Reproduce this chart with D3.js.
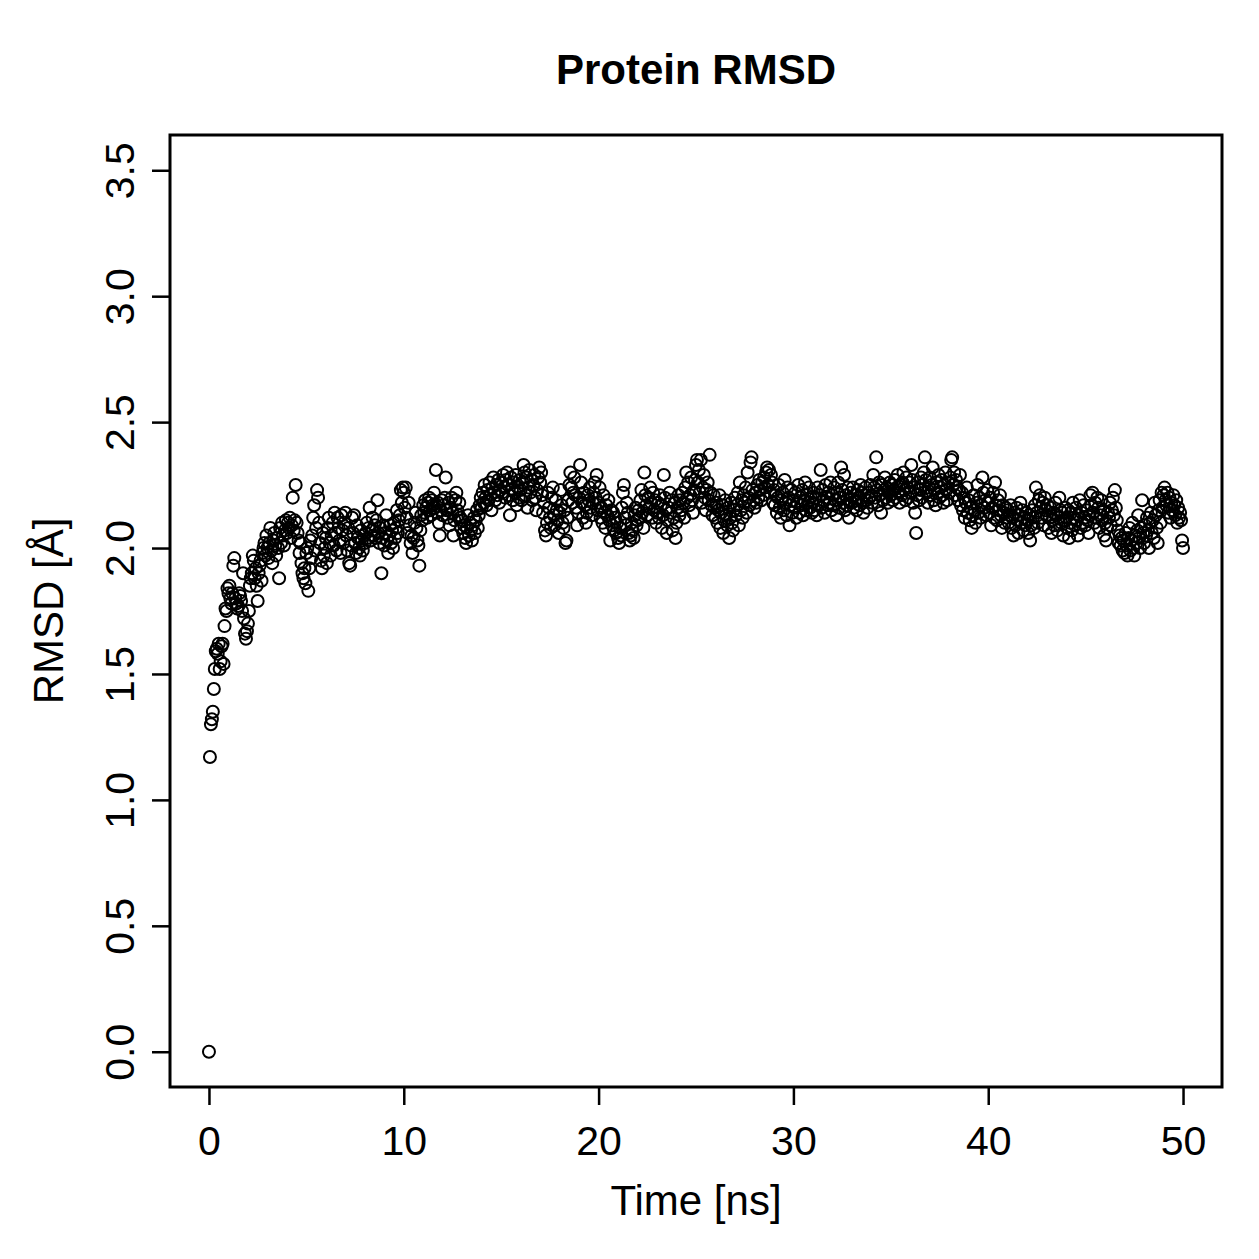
<!DOCTYPE html>
<html>
<head>
<meta charset="utf-8">
<script src="https://cdn.jsdelivr.net/npm/d3@7"></script>
<style>
  body { margin: 0; background: #fff; }
  svg text { font-family: "Liberation Sans", Arial, Helvetica, sans-serif; fill: #000; }
</style>
</head>
<body>
<div id="chart"></div>
<script>
// sampling interval of the trajectory (ns per frame)
var timeStep = 0.05;

// protein RMSD per frame, one row per nanosecond
var rmsd = [
  0.00,1.17,1.30,1.32,1.35,1.44,1.52,1.59,1.60,1.58,1.62,1.52,1.55,1.61,1.62,1.54,1.69,1.76,1.75,1.84,
  1.82,1.85,1.80,1.78,1.82,1.93,1.96,1.80,1.78,1.76,1.77,1.82,1.81,1.79,1.75,1.90,1.72,1.66,1.64,1.67,
  1.70,1.75,1.85,1.88,1.90,1.97,1.95,1.88,1.92,1.85,1.79,1.90,1.93,1.95,1.87,1.98,2.00,2.02,1.97,2.05,
  2.00,1.96,2.02,2.08,1.99,1.94,2.03,2.06,2.01,1.97,2.04,2.00,1.88,2.08,2.02,2.10,2.05,2.01,2.07,2.11,
  2.06,2.10,2.08,2.12,2.04,2.09,2.20,2.07,2.11,2.25,2.10,2.06,2.03,1.98,2.02,1.94,1.90,1.88,1.92,1.86,
  1.98,2.00,1.83,1.92,2.03,1.96,2.05,2.12,2.17,1.99,2.08,2.23,2.20,2.10,2.02,1.95,1.92,2.06,1.97,2.00,
  2.04,1.94,2.08,2.12,2.02,1.97,2.05,2.10,2.01,2.14,2.06,1.99,2.12,2.08,2.03,1.98,2.13,2.07,2.02,2.10,
  2.14,2.05,1.99,2.08,1.94,1.93,2.01,2.12,2.06,2.13,2.02,1.98,2.09,2.04,2.00,1.97,2.07,2.03,1.99,2.05,
  2.02,2.06,2.10,2.04,2.08,2.16,2.03,2.07,2.12,2.05,2.09,2.04,2.11,2.19,2.06,2.02,2.08,1.90,2.04,2.09,
  2.01,2.06,2.13,2.03,1.98,2.05,2.09,2.02,2.07,2.00,2.10,2.04,2.08,2.15,2.06,2.11,2.13,2.23,2.18,2.24,
  2.22,2.16,2.24,2.12,2.06,2.18,2.09,2.02,2.05,1.98,2.04,2.10,2.14,2.08,2.03,2.01,1.93,2.07,2.13,2.11,
  2.17,2.14,2.19,2.16,2.12,2.18,2.20,2.15,2.13,2.19,2.17,2.22,2.16,2.31,2.14,2.18,2.10,2.05,2.15,2.19,
  2.13,2.17,2.20,2.28,2.15,2.12,2.18,2.09,2.16,2.20,2.14,2.05,2.11,2.19,2.22,2.15,2.13,2.18,2.12,2.08,
  2.11,2.06,2.09,2.04,2.02,2.08,2.13,2.05,2.10,2.07,2.03,2.09,2.12,2.06,2.11,2.15,2.08,2.13,2.17,2.20,
  2.16,2.22,2.18,2.25,2.20,2.17,2.23,2.19,2.26,2.21,2.15,2.24,2.28,2.22,2.19,2.25,2.21,2.27,2.18,2.23,
  2.26,2.22,2.29,2.24,2.20,2.27,2.30,2.25,2.21,2.13,2.28,2.23,2.19,2.26,2.22,2.29,2.17,2.24,2.20,2.27,
  2.23,2.19,2.26,2.33,2.30,2.21,2.28,2.16,2.24,2.31,2.22,2.27,2.19,2.25,2.29,2.20,2.15,2.23,2.28,2.32,
  2.26,2.30,2.21,2.14,2.18,2.07,2.05,2.10,2.22,2.16,2.12,2.08,2.20,2.24,2.13,2.09,2.19,2.15,2.11,2.06,
  2.14,2.23,2.17,2.10,2.08,2.15,2.02,2.03,2.12,2.19,2.25,2.30,2.24,2.18,2.22,2.28,2.21,2.16,2.09,2.14,
  2.20,2.33,2.26,2.18,2.12,2.22,2.17,2.10,2.14,2.21,2.19,2.24,2.16,2.13,2.18,2.22,2.26,2.20,2.29,2.15,
  2.18,2.24,2.12,2.16,2.10,2.21,2.14,2.08,2.17,2.13,2.19,2.11,2.03,2.15,2.09,2.14,2.07,2.12,2.06,2.10,
  2.04,2.02,2.08,2.05,2.16,2.22,2.25,2.12,2.09,2.18,2.14,2.06,2.03,2.05,2.10,2.07,2.04,2.13,2.16,2.09,
  2.11,2.15,2.12,2.19,2.23,2.14,2.08,2.30,2.21,2.17,2.13,2.20,2.16,2.24,2.18,2.12,2.22,2.15,2.19,2.10,
  2.14,2.18,2.12,2.21,2.17,2.08,2.13,2.29,2.20,2.15,2.06,2.11,2.16,2.22,2.14,2.19,2.07,2.12,2.18,2.04,
  2.10,2.16,2.21,2.13,2.19,2.15,2.22,2.18,2.12,2.24,2.30,2.20,2.26,2.17,2.21,2.28,2.19,2.14,2.23,2.27,
  2.33,2.35,2.26,2.31,2.22,2.35,2.18,2.24,2.29,2.20,2.15,2.23,2.26,2.19,2.37,2.22,2.17,2.13,2.21,2.16,
  2.12,2.18,2.10,2.15,2.21,2.08,2.14,2.17,2.06,2.11,2.19,2.13,2.09,2.16,2.04,2.12,2.18,2.10,2.07,2.15,
  2.20,2.13,2.17,2.22,2.09,2.26,2.15,2.19,2.12,2.21,2.18,2.24,2.14,2.30,2.20,2.17,2.34,2.36,2.23,2.19,
  2.16,2.22,2.18,2.25,2.20,2.27,2.23,2.19,2.26,2.21,2.28,2.24,2.30,2.32,2.25,2.31,2.22,2.29,2.26,2.18,
  2.23,2.17,2.21,2.14,2.20,2.25,2.16,2.12,2.19,2.22,2.15,2.27,2.18,2.13,2.24,2.20,2.09,2.17,2.23,2.14,
  2.19,2.16,2.22,2.12,2.18,2.25,2.14,2.20,2.17,2.23,2.13,2.19,2.26,2.15,2.21,2.18,2.24,2.16,2.20,2.14,
  2.18,2.22,2.15,2.20,2.13,2.24,2.17,2.21,2.31,2.16,2.23,2.19,2.14,2.25,2.20,2.17,2.22,2.18,2.26,2.15,
  2.21,2.17,2.24,2.19,2.13,2.22,2.26,2.16,2.20,2.32,2.23,2.18,2.29,2.15,2.21,2.17,2.24,2.12,2.19,2.22,
  2.18,2.24,2.16,2.21,2.19,2.15,2.23,2.20,2.17,2.25,2.22,2.18,2.14,2.21,2.24,2.19,2.16,2.22,2.20,2.25,
  2.21,2.18,2.29,2.24,2.20,2.36,2.23,2.17,2.26,2.21,2.14,2.25,2.19,2.23,2.28,2.20,2.24,2.18,2.22,2.26,
  2.21,2.25,2.19,2.23,2.27,2.20,2.24,2.29,2.22,2.18,2.25,2.21,2.26,2.30,2.23,2.19,2.28,2.24,2.20,2.26,
  2.22,2.33,2.27,2.18,2.24,2.14,2.06,2.21,2.26,2.19,2.23,2.28,2.20,2.25,2.30,2.36,2.27,2.22,2.18,2.24,
  2.28,2.21,2.25,2.32,2.19,2.23,2.17,2.26,2.22,2.29,2.20,2.24,2.27,2.21,2.18,2.25,2.30,2.23,2.19,2.26,
  2.22,2.28,2.35,2.36,2.25,2.30,2.21,2.27,2.24,2.19,2.23,2.29,2.17,2.22,2.15,2.20,2.12,2.18,2.24,2.14,
  2.19,2.11,2.16,2.08,2.13,2.21,2.15,2.10,2.18,2.25,2.14,2.20,2.12,2.17,2.28,2.22,2.16,2.19,2.13,2.23,
  2.18,2.14,2.20,2.09,2.16,2.22,2.12,2.26,2.17,2.11,2.19,2.15,2.21,2.13,2.08,2.17,2.14,2.10,2.16,2.12,
  2.15,2.10,2.13,2.17,2.08,2.12,2.05,2.14,2.09,2.16,2.11,2.06,2.13,2.18,2.10,2.15,2.07,2.12,2.09,2.14,
  2.11,2.06,2.13,2.03,2.09,2.15,2.12,2.08,2.17,2.24,2.14,2.10,2.19,2.21,2.16,2.12,2.18,2.09,2.20,2.15,
  2.13,2.17,2.08,2.12,2.16,2.06,2.11,2.14,2.09,2.18,2.13,2.07,2.12,2.20,2.15,2.10,2.14,2.05,2.11,2.16,
  2.12,2.08,2.15,2.04,2.10,2.14,2.07,2.18,2.12,2.09,2.16,2.11,2.05,2.13,2.19,2.08,2.14,2.10,2.17,2.12,
  2.09,2.15,2.11,2.06,2.13,2.21,2.17,2.22,2.14,2.10,2.18,2.12,2.20,2.16,2.08,2.13,2.19,2.11,2.15,2.05,
  2.10,2.03,2.08,2.14,2.12,2.18,2.09,2.15,2.20,2.13,2.23,2.16,2.11,2.07,2.02,2.05,2.01,2.04,1.99,2.03,
  1.98,2.06,2.01,1.97,2.04,2.08,1.99,2.03,2.10,2.00,1.97,2.05,2.02,2.07,2.13,2.04,2.00,2.08,2.19,2.06,
  2.02,2.09,2.05,2.12,2.07,2.00,2.10,2.14,2.06,2.11,2.04,2.18,2.13,2.08,2.02,2.15,2.19,2.10,2.22,2.16,
  2.21,2.24,2.19,2.17,2.22,2.14,2.20,2.12,2.18,2.15,2.21,2.17,2.13,2.19,2.10,2.16,2.12,2.14,2.11,2.03,
  2.00
];

var xTicks = [0, 10, 20, 30, 40, 50];
var yTicks = [0.0, 0.5, 1.0, 1.5, 2.0, 2.5, 3.0, 3.5];

var titleText = 'Protein RMSD';
var xLabel = 'Time [ns]';
var yLabel = 'RMSD [Å]';

var width = 1259, height = 1259;
var margin = { top: 135, right: 37, bottom: 172, left: 170 };

var points = rmsd.map(function (v, i) {
  return { t: i * timeStep, v: v };
});

var svg = d3.select('#chart')
  .append('svg')
  .attr('width', width)
  .attr('height', height);

// R pads the data range by 4% on each side
var x = d3.scaleLinear()
  .domain([-2, 52])
  .range([margin.left, width - margin.right]);

var y = d3.scaleLinear()
  .domain([-0.14, 3.64])
  .range([height - margin.bottom, margin.top]);

var tickLen = 18;

// x axis: ticks only across the labelled range
var xAxis = svg.append('g')
  .attr('transform', 'translate(0,' + (height - margin.bottom) + ')')
  .call(d3.axisBottom(x)
    .tickValues(xTicks)
    .tickSize(tickLen)
    .tickFormat(d3.format('d')));

xAxis.select('.domain').remove();
xAxis.selectAll('line').attr('stroke', '#000').attr('stroke-width', 2.5);
xAxis.selectAll('text')
  .attr('font-size', 41)
  .attr('fill', '#000')
  .attr('y', 68)
  .attr('dy', null);

// y axis with labels rotated parallel to the axis
var yAxis = svg.append('g')
  .attr('transform', 'translate(' + margin.left + ',0)')
  .call(d3.axisLeft(y)
    .tickValues(yTicks)
    .tickSize(tickLen)
    .tickFormat(d3.format('.1f')));

yAxis.select('.domain').remove();
yAxis.selectAll('line').attr('stroke', '#000').attr('stroke-width', 2.5);
yAxis.selectAll('text')
  .attr('font-size', 41)
  .attr('fill', '#000')
  .attr('x', null)
  .attr('dy', null)
  .attr('text-anchor', 'middle')
  .attr('transform', 'translate(-36,0) rotate(-90)');

// plot box
svg.append('rect')
  .attr('x', margin.left)
  .attr('y', margin.top)
  .attr('width', width - margin.left - margin.right)
  .attr('height', height - margin.top - margin.bottom)
  .attr('fill', 'none')
  .attr('stroke', '#000')
  .attr('stroke-width', 3);

// points
svg.append('g')
  .selectAll('circle')
  .data(points)
  .enter()
  .append('circle')
  .attr('cx', function (d) { return x(d.t); })
  .attr('cy', function (d) { return y(d.v); })
  .attr('r', 6)
  .attr('fill', 'none')
  .attr('stroke', '#000')
  .attr('stroke-width', 2);

// title and axis labels
svg.append('text')
  .attr('x', (margin.left + width - margin.right) / 2)
  .attr('y', 84)
  .attr('text-anchor', 'middle')
  .attr('font-size', 42)
  .attr('font-weight', 'bold')
  .text(titleText);

svg.append('text')
  .attr('x', (margin.left + width - margin.right) / 2)
  .attr('y', 1215)
  .attr('text-anchor', 'middle')
  .attr('font-size', 42)
  .text(xLabel);

svg.append('text')
  .attr('transform', 'translate(63,' + (margin.top + height - margin.bottom) / 2 + ') rotate(-90)')
  .attr('text-anchor', 'middle')
  .attr('font-size', 42)
  .text(yLabel);
</script>
</body>
</html>
